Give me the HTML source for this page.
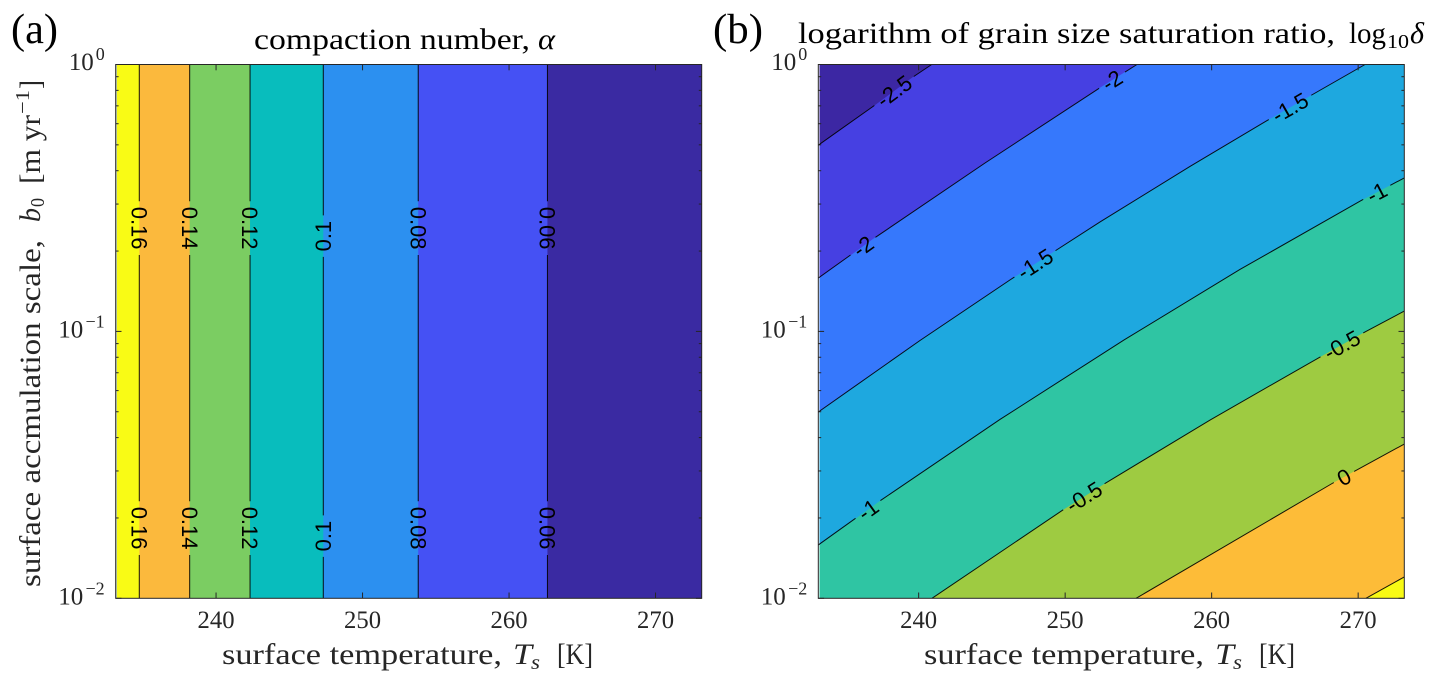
<!DOCTYPE html>
<html>
<head>
<meta charset="utf-8">
<title>Compaction number and grain size saturation ratio</title>
<style>
html,body{margin:0;padding:0;background:#fff;}
svg{display:block;}
.cm{font-family:"Liberation Serif",serif;fill:#262626;}
.ttl{font-family:"Liberation Serif",serif;fill:#000;}
</style>
</head>
<body>
<svg id="fig" width="1437" height="686" viewBox="0 0 1437 686" xmlns="http://www.w3.org/2000/svg">
  <text class="ttl" x="11" y="43" font-size="42" textLength="47" lengthAdjust="spacingAndGlyphs">(a)</text>
  <text class="ttl" x="713" y="43" font-size="42" textLength="50" lengthAdjust="spacingAndGlyphs">(b)</text>

  <g>
    <text class="ttl" x="254" y="49" font-size="29.5" textLength="276" lengthAdjust="spacingAndGlyphs">compaction number,</text>
    <text class="ttl" x="538" y="49" font-size="29.5" font-style="italic" textLength="17" lengthAdjust="spacingAndGlyphs">α</text>
  </g>
  <g>
    <text class="ttl" x="798" y="43" font-size="29.5" textLength="537" lengthAdjust="spacingAndGlyphs">logarithm of grain size saturation ratio,</text>
    <text class="ttl" x="1349" y="43" font-size="29.5" textLength="37" lengthAdjust="spacingAndGlyphs">log</text>
    <text class="ttl" x="1387" y="48" font-size="20" textLength="22" lengthAdjust="spacingAndGlyphs">10</text>
    <text class="ttl" x="1410" y="43" font-size="29.5" font-style="italic" textLength="14" lengthAdjust="spacingAndGlyphs">δ</text>
  </g>

  <g>
    <text class="cm" x="222" y="664" font-size="29.5" textLength="280" lengthAdjust="spacingAndGlyphs">surface temperature,</text>
    <text class="cm" x="513" y="664" font-size="29.5" font-style="italic" textLength="19" lengthAdjust="spacingAndGlyphs">T</text>
    <text class="cm" x="531" y="669" font-size="20" font-style="italic" textLength="9" lengthAdjust="spacingAndGlyphs">s</text>
    <text class="cm" x="557" y="664" font-size="29.5" textLength="36" lengthAdjust="spacingAndGlyphs">[K]</text>
  </g>
  <g>
    <text class="cm" x="924" y="664" font-size="29.5" textLength="280" lengthAdjust="spacingAndGlyphs">surface temperature,</text>
    <text class="cm" x="1215" y="664" font-size="29.5" font-style="italic" textLength="19" lengthAdjust="spacingAndGlyphs">T</text>
    <text class="cm" x="1233" y="669" font-size="20" font-style="italic" textLength="9" lengthAdjust="spacingAndGlyphs">s</text>
    <text class="cm" x="1259" y="664" font-size="29.5" textLength="36" lengthAdjust="spacingAndGlyphs">[K]</text>
  </g>

  <g>
    <text class="cm" transform="translate(40,587) rotate(-90)" font-size="29.5" textLength="347" lengthAdjust="spacingAndGlyphs">surface accmulation scale,</text>
    <text class="cm" transform="translate(40,222) rotate(-90)" font-size="29.5" font-style="italic" textLength="14" lengthAdjust="spacingAndGlyphs">b</text>
    <text class="cm" transform="translate(44,207) rotate(-90)" font-size="20" textLength="9" lengthAdjust="spacingAndGlyphs">0</text>
    <text class="cm" transform="translate(40,184) rotate(-90)" font-size="29.5" textLength="69" lengthAdjust="spacingAndGlyphs">[m yr</text>
    <text class="cm" transform="translate(29,114) rotate(-90)" font-size="20" textLength="24" lengthAdjust="spacingAndGlyphs">−1</text>
    <text class="cm" transform="translate(40,89) rotate(-90)" font-size="29.5" textLength="9" lengthAdjust="spacingAndGlyphs">]</text>
  </g>
</svg>

<script>
// Axis domain and ticks
const tempMin = 233.15;
const tempMax = 273.15;
const logMin = -2;
const logMax = 0;
const xTickValues = [240, 250, 260, 270];
const yTickExponents = [0, -1, -2];
const yMinorMultipliers = [2, 3, 4, 5, 6, 7, 8, 9];

// Panel (a): compaction number, vertical contours
const alphaLevels = [0.16, 0.14, 0.12, 0.1, 0.08, 0.06];
const alphaTemps = [234.76, 238.2, 242.32, 247.32, 253.8, 262.62];
const alphaLabelLogB = [
  [-0.613, -1.737],
  [-0.613, -1.737],
  [-0.613, -1.737],
  [-0.643, -1.767],
  [-0.613, -1.737],
  [-0.613, -1.737]
];
const alphaLabelFlip = [false, false, false, true, false, false];
const alphaColors = ['#f9fb15', '#fbb93d', '#7bcd62', '#08bdbd', '#2c90f0', '#4551f4'];
const alphaBackground = '#3a2aa2';

// Panel (b): log10 of the grain size saturation ratio, contours
const deltaLevels = [-2.5, -2, -1.5, -1, -0.5, 0, 0.5];
const deltaTemps = [
  [233.15, 237.02, 239.61, 240.89],
  [233.15, 236.88, 244.53, 252.24, 254.90],
  [233.15, 240.09, 246.24, 252.38, 258.52, 263.78, 270.47],
  [233.15, 237.36, 245.55, 254.02, 261.93, 270.26, 273.15],
  [240.91, 249.85, 252.65, 259.89, 267.40, 270.47, 273.15],
  [254.84, 268.28, 273.15],
  [270.53, 273.15]
];
const deltaLogB = [
  [-0.302, -0.152, -0.047, 0],
  [-0.800, -0.654, -0.369, -0.092, 0],
  [-1.302, -1.034, -0.807, -0.590, -0.382, -0.210, 0],
  [-1.800, -1.635, -1.330, -1.032, -0.768, -0.508, -0.425],
  [-2, -1.669, -1.572, -1.332, -1.096, -1.002, -0.924],
  [-2, -1.568, -1.422],
  [-2, -1.920]
];
const deltaLabelTemps = [
  [238.32],
  [236.2, 253.2],
  [247.94, 265.35],
  [236.54, 271.27],
  [251.28, 268.89],
  [269.03],
  []
];
const deltaColors = ['#4640e2', '#3678fc', '#1ea8df', '#2fc5a3', '#9ecb41', '#fdbc38', '#f8fa14'];
const deltaBackground = '#3c27a3';

const NS = 'http://www.w3.org/2000/svg';
const fig = document.getElementById('fig');
const plotW = 586;
const plotH = 533.8;
const plotTop = 64.5;

function mk(parent, tag, attrs, name) {
  const el = document.createElementNS(NS, tag);
  for (const k in attrs) el.setAttribute(k, attrs[k]);
  
  
  parent.appendChild(el);
  return el;
}

function xScale(x0, t) { return x0 + (t - tempMin) / (tempMax - tempMin) * plotW; }
function yScale(l) { return plotTop + (logMax - l) / (logMax - logMin) * plotH; }

function locate(pts, value, axis) {
  let s = 0;
  for (let i = 0; i < pts.length - 1; i++) {
    const a = pts[i], b = pts[i + 1];
    const len = Math.hypot(b[0] - a[0], b[1] - a[1]);
    const lo = Math.min(a[axis], b[axis]), hi = Math.max(a[axis], b[axis]);
    if (value >= lo && value <= hi) {
      const f = (value - a[axis]) / ((b[axis] - a[axis]) || 1);
      return { x: a[0] + f * (b[0] - a[0]), y: a[1] + f * (b[1] - a[1]), s: s + f * len,
               ang: Math.atan2(b[1] - a[1], b[0] - a[0]) * 180 / Math.PI };
    }
    s += len;
  }
  return { x: pts[0][0], y: pts[0][1], s: 0, ang: 0 };
}

function drawContour(parent, pts, labels, name) {
  let total = 0;
  for (let i = 0; i < pts.length - 1; i++) total += Math.hypot(pts[i + 1][0] - pts[i][0], pts[i + 1][1] - pts[i][1]);
  const line = mk(parent, 'polyline', {
    points: pts.map(p => p.join(',')).join(' '),
    fill: 'none', stroke: '#000', 'stroke-width': 1, 'stroke-opacity': 0.9
  }, name + '-line');
  const gaps = [];
  labels.forEach(lb => {
    const t = mk(parent, 'text', {
      transform: 'translate(' + lb.x + ',' + lb.y + ') rotate(' + lb.ang + ')',
      'text-anchor': 'middle', dy: '0.36em', 'font-size': 22,
      'font-family': '"Liberation Sans", sans-serif', fill: '#000'
    }, name + '-label');
    t.textContent = lb.text;
    gaps.push([lb.s, t.getComputedTextLength() / 2 + 5.5]);
  });
  gaps.sort((a, b) => a[0] - b[0]);
  if (gaps.length) {
    const dash = [];
    let cur = 0;
    gaps.forEach(g => {
      dash.push(Math.max(0, g[0] - g[1] - cur), 2 * g[1]);
      cur = g[0] + g[1];
    });
    dash.push(Math.max(0, total - cur) + 10, 0);
    line.setAttribute('stroke-dasharray', dash.join(' '));
  }
}

function drawAxes(parent, x0) {
  const right = x0 + plotW;
  const bottom = plotTop + plotH;
  xTickValues.forEach(v => {
    const x = xScale(x0, v);
    mk(parent, 'line', { x1: x, x2: x, y1: bottom, y2: bottom - 5.8, stroke: '#262626', 'stroke-width': 1 }, 'x-tick-bottom-' + v);
    mk(parent, 'line', { x1: x, x2: x, y1: plotTop, y2: plotTop + 5.8, stroke: '#262626', 'stroke-width': 1 }, 'x-tick-top-' + v);
    const t = mk(parent, 'text', { x: x, y: 628, 'text-anchor': 'middle', 'font-size': 25, textLength: 37, lengthAdjust: 'spacingAndGlyphs', class: 'cm' }, 'x-tick-label-' + v);
    t.textContent = String(v);
  });
  yTickExponents.forEach(e => {
    const y = yScale(e);
    mk(parent, 'line', { x1: x0, x2: x0 + 5.8, y1: y, y2: y, stroke: '#262626', 'stroke-width': 1 }, 'y-tick-left-' + e);
    mk(parent, 'line', { x1: right, x2: right - 5.8, y1: y, y2: y, stroke: '#262626', 'stroke-width': 1 }, 'y-tick-right-' + e);
    const supEnd = x0 - 11;
    const supW = e === 0 ? 10.5 : 21;
    const b = e === 0 ? y + 5.5 : y + 6;
    const ten = mk(parent, 'text', { x: supEnd - supW - 0.5, y: b, 'text-anchor': 'end', 'font-size': 25, class: 'cm' }, 'y-tick-label-base');
    ten.textContent = '10';
    const sup = mk(parent, 'text', { x: supEnd, y: b - 10, 'text-anchor': 'end', 'font-size': 18, class: 'cm' }, 'y-tick-label-exponent');
    sup.textContent = e === 0 ? '0' : '−' + Math.abs(e);
  });
  for (let d = logMin; d < logMax; d++) {
    yMinorMultipliers.forEach(m => {
      const y = yScale(d + Math.log10(m));
      mk(parent, 'line', { x1: x0, x2: x0 + 2.9, y1: y, y2: y, stroke: '#262626', 'stroke-width': 1 }, 'y-minor-tick-left');
      mk(parent, 'line', { x1: right, x2: right - 2.9, y1: y, y2: y, stroke: '#262626', 'stroke-width': 1 }, 'y-minor-tick-right');
    });
  }
  mk(parent, 'rect', { x: x0, y: plotTop, width: plotW, height: plotH, fill: 'none', stroke: '#262626', 'stroke-width': 1 }, 'axes-box');
}

function fillBox(parent, x0, color, name) {
  return mk(parent, 'rect', { x: x0 + 1.2, y: plotTop, width: plotW - 1.2, height: plotH, fill: color }, name);
}

// Panel (a)
(function () {
  const x0 = 115.7;
  const g = mk(fig, 'g', {}, 'panel-a-compaction-number');
  fillBox(g, x0, alphaBackground, 'band-background');
  for (let i = alphaTemps.length - 1; i >= 0; i--) {
    const w = xScale(x0, alphaTemps[i]) - x0 - 1.2;
    mk(g, 'rect', { x: x0 + 1.2, y: plotTop, width: w, height: plotH, fill: alphaColors[i] }, 'band-alpha-' + alphaLevels[i]);
  }
  alphaTemps.forEach((t, i) => {
    const x = xScale(x0, t);
    const pts = [[x, yScale(logMax)], [x, yScale(logMin)]];
    const labels = alphaLabelLogB[i].map(l => {
      const loc = locate(pts, yScale(l), 1);
      return { x: loc.x, y: loc.y, s: loc.s, ang: alphaLabelFlip[i] ? -90 : 90, text: String(alphaLevels[i]) };
    });
    drawContour(g, pts, labels, 'contour-alpha-' + alphaLevels[i]);
  });
  drawAxes(g, x0);
})();

// Panel (b)
(function () {
  const x0 = 818.3;
  const g = mk(fig, 'g', {}, 'panel-b-saturation-ratio');
  fillBox(g, x0, deltaBackground, 'band-background');
  const left = x0 + 1.2, right = x0 + plotW, top = plotTop, bottom = plotTop + plotH;
  deltaLevels.forEach((lev, i) => {
    const pts = deltaTemps[i].map((t, j) => [xScale(x0, t), yScale(deltaLogB[i][j])]);
    const poly = pts.map(p => [Math.max(p[0], left), p[1]]);
    const last = deltaLogB[i][deltaLogB[i].length - 1];
    if (last === logMax) poly.push([right, top]);
    poly.push([right, bottom]);
    if (deltaTemps[i][0] === tempMin) poly.push([left, bottom]);
    mk(g, 'polygon', { points: poly.map(p => p.join(',')).join(' '), fill: deltaColors[i] }, 'band-delta-' + lev);
  });
  deltaLevels.forEach((lev, i) => {
    const pts = deltaTemps[i].map((t, j) => [xScale(x0, t), yScale(deltaLogB[i][j])]);
    const labels = deltaLabelTemps[i].map(t => {
      const loc = locate(pts, xScale(x0, t), 0);
      return { x: loc.x, y: loc.y, s: loc.s, ang: loc.ang, text: String(lev) };
    });
    drawContour(g, pts, labels, 'contour-delta-' + lev);
  });
  drawAxes(g, x0);
})();
</script>
</body>
</html>
